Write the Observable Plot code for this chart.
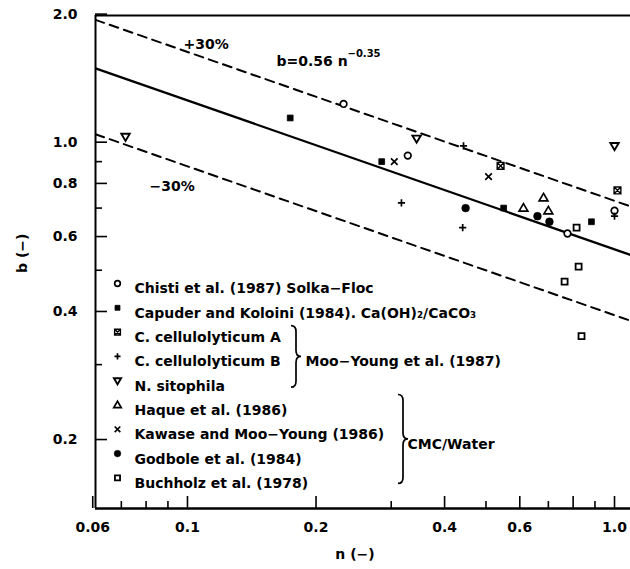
<!DOCTYPE html>
<html>
<head>
<meta charset="utf-8">
<script src="https://cdn.jsdelivr.net/npm/d3@7"></script>
<script src="https://cdn.jsdelivr.net/npm/@observablehq/plot@0.6"></script>
<style>
  html, body { margin: 0; padding: 0; background: #fff; }
  #chart { width: 630px; height: 569px; }
</style>
</head>
<body>
<div id="chart"></div>
<script>
// ---------- DATA (n, b) ----------
const chisti   = [[0.232, 1.23], [0.328, 0.93], [0.776, 0.61], [1.0, 0.69]];
const capuder  = [[0.174, 1.14], [0.285, 0.90], [0.550, 0.70], [0.883, 0.65]];
const ccellA   = [[0.541, 0.88], [1.016, 0.77]];
const ccellB   = [[0.443, 0.98], [0.317, 0.72], [0.441, 0.63], [1.0, 0.67]];
const nsito    = [[0.0716, 1.03], [0.344, 1.02], [1.0, 0.98]];
const haque    = [[0.612, 0.70], [0.682, 0.74], [0.700, 0.69]];
const kawase   = [[0.305, 0.90], [0.507, 0.83]];
const godbole  = [[0.448, 0.70], [0.660, 0.67], [0.704, 0.65]];
const buchholz = [[0.815, 0.63], [0.824, 0.51], [0.764, 0.47], [0.837, 0.35]];

const seriesLabels = [
  "Chisti et al. (1987) Solka\u2212Floc",
  "Capuder and Koloini (1984). Ca(OH)\u2082/CaCO\u2083",
  "C. cellulolyticum A",
  "C. cellulolyticum B",
  "N. sitophila",
  "Haque et al. (1986)",
  "Kawase and Moo\u2212Young (1986)",
  "Godbole et al. (1984)",
  "Buchholz et al. (1978)"
];
const groupLabels = ["Moo\u2212Young et al. (1987)", "CMC/Water"];

const xTickLabels = [0.06, 0.1, 0.2, 0.4, 0.6, 0.8, 1.0];
const xMinorTicks = [0.07, 0.08, 0.09, 0.3, 0.5, 0.7, 0.9];
const yTickLabels = [0.2, 0.4, 0.6, 0.8, 1.0, 2.0];
const yMinorTicks = [0.3, 0.5, 0.7, 0.9];

// correlation b = 0.56 n^-0.35, +/-30 %
const fitCoef = 0.56, fitExp = -0.35, band = 0.30;

// ---------- layout / styles ----------
const W = 630, H = 569;
const mL = 95, mR = 0, mT = 15, mB = 61;
const plotW = W - mL - mR, plotH = H - mT - mB;
const xDomain = [0.0609, 1.09];
const yDomain = [0.1377, 1.985];
const FONT = "DejaVu Sans";
const FS = 14;

function rOf(size) { return Math.sqrt(size / Math.PI); }
const symCircle = { draw(c, s) { const r = rOf(s); c.moveTo(r, 0); c.arc(0, 0, r, 0, 2 * Math.PI); } };
const symSquare = { draw(c, s) { const r = rOf(s); c.rect(-r, -r, 2 * r, 2 * r); } };
const symBoxX = { draw(c, s) { const r = rOf(s); c.rect(-r, -r, 2 * r, 2 * r); c.moveTo(-r, -r); c.lineTo(r, r); c.moveTo(r, -r); c.lineTo(-r, r); } };
const symPlus = { draw(c, s) { const r = rOf(s); c.moveTo(-r, 0); c.lineTo(r, 0); c.moveTo(0, -r); c.lineTo(0, r); } };
const symTimes = { draw(c, s) { const r = rOf(s); c.moveTo(-r, -r); c.lineTo(r, r); c.moveTo(r, -r); c.lineTo(-r, r); } };
const symDown = { draw(c, s) { const r = rOf(s); c.moveTo(-r, -0.7 * r); c.lineTo(r, -0.7 * r); c.lineTo(0, r); c.closePath(); } };
const symUp = { draw(c, s) { const r = rOf(s); c.moveTo(-r, 0.7 * r); c.lineTo(r, 0.7 * r); c.lineTo(0, -r); c.closePath(); } };

const seriesData = [chisti, capuder, ccellA, ccellB, nsito, haque, kawase, godbole, buchholz];
const seriesStyle = [
  { symbol: symCircle, r: 3.3, fill: "white", stroke: "black", strokeWidth: 1.7 },
  { symbol: symSquare, r: 2.9, fill: "black", stroke: "black", strokeWidth: 0.8 },
  { symbol: symBoxX,   r: 3.4, fill: "white", stroke: "black", strokeWidth: 1.4 },
  { symbol: symPlus,   r: 3.6, fill: "none",  stroke: "black", strokeWidth: 1.7 },
  { symbol: symDown,   r: 4.2, fill: "white", stroke: "black", strokeWidth: 1.9 },
  { symbol: symUp,     r: 4.4, fill: "white", stroke: "black", strokeWidth: 1.7 },
  { symbol: symTimes,  r: 3.3, fill: "none",  stroke: "black", strokeWidth: 1.7 },
  { symbol: symCircle, r: 3.9, fill: "black", stroke: "black", strokeWidth: 0.5 },
  { symbol: symSquare, r: 3.0, fill: "white", stroke: "black", strokeWidth: 1.8 }
];

const fitLine = xDomain.map(n => ({ n, b: fitCoef * Math.pow(n, fitExp) }));
const upLine = fitLine.map(d => ({ n: d.n, b: d.b * (1 + band) }));
const loLine = fitLine.map(d => ({ n: d.n, b: d.b * (1 - band) }));

const legendX = 22, legendTextX = 39, legendY0 = 268, legendDY = 24.3;
const txt = { fontSize: FS, fontWeight: "bold" };

const marks = [];
// frame lines
marks.push(Plot.ruleY([yDomain[1]], { stroke: "black", strokeWidth: 2 }));
marks.push(Plot.ruleY([yDomain[0]], { stroke: "black", strokeWidth: 2.6 }));
marks.push(Plot.ruleX([xDomain[0]], { stroke: "black", strokeWidth: 2 }));
// inward ticks
marks.push(Plot.ruleX(xTickLabels, { x: d => d, insetTop: plotH - 12, stroke: "black", strokeWidth: 1.6 }));
marks.push(Plot.ruleX(xMinorTicks, { x: d => d, insetTop: plotH - 7, stroke: "black", strokeWidth: 1.6 }));
marks.push(Plot.ruleY(yTickLabels, { y: d => d, insetRight: plotW - 12, stroke: "black", strokeWidth: 1.6 }));
marks.push(Plot.ruleY(yMinorTicks, { y: d => d, insetRight: plotW - 7, stroke: "black", strokeWidth: 1.6 }));
// axes labels
marks.push(Plot.axisX({ ticks: xTickLabels, tickSize: 0, tickPadding: 14, label: null, tickFormat: d => d === 0.06 ? "0.06" : d.toFixed(1), ...txt }));
marks.push(Plot.axisY({ ticks: yTickLabels, tickSize: 0, tickPadding: 18, label: null, tickFormat: d => d.toFixed(1), ...txt }));
marks.push(Plot.text(["n (\u2212)"], { frameAnchor: "bottom", dx: -8, dy: 50, ...txt }));
marks.push(Plot.text(["b (\u2212)"], { frameAnchor: "left", dx: -73, dy: 11, rotate: -90, ...txt }));
// correlation lines
marks.push(Plot.line(fitLine, { x: "n", y: "b", stroke: "black", strokeWidth: 2.3, clip: true }));
marks.push(Plot.line(upLine, { x: "n", y: "b", stroke: "black", strokeWidth: 2, strokeDasharray: "9,6", clip: true }));
marks.push(Plot.line(loLine, { x: "n", y: "b", stroke: "black", strokeWidth: 2, strokeDasharray: "9,6", clip: true }));
// annotations
marks.push(Plot.text(["+30%"], { frameAnchor: "top-left", dx: 88, dy: 24, textAnchor: "start", ...txt }));
marks.push(Plot.text(["\u221230%"], { frameAnchor: "top-left", dx: 54, dy: 166, textAnchor: "start", ...txt }));
marks.push(Plot.text(["b=0.56 n"], { frameAnchor: "top-left", dx: 181, dy: 41, textAnchor: "start", ...txt }));
marks.push(Plot.text(["\u22120.35"], { frameAnchor: "top-left", dx: 252, dy: 34, textAnchor: "start", fontSize: 10, fontWeight: "bold" }));
// data points
seriesData.forEach((data, i) => {
  const s = seriesStyle[i];
  marks.push(Plot.dot(data, { x: d => d[0], y: d => d[1], symbol: s.symbol, r: s.r, fill: s.fill, stroke: s.stroke, strokeWidth: s.strokeWidth }));
});
// legend
seriesLabels.forEach((label, i) => {
  const s = seriesStyle[i];
  const dy = legendY0 + i * legendDY;
  marks.push(Plot.dot([label], { frameAnchor: "top-left", dx: legendX, dy, symbol: s.symbol, r: s.r * 0.85, fill: s.fill, stroke: s.stroke, strokeWidth: s.strokeWidth }));
  marks.push(Plot.text([label], { frameAnchor: "top-left", dx: legendTextX, dy, text: d => d, textAnchor: "start", ...txt }));
});
marks.push(Plot.text([groupLabels[0]], { frameAnchor: "top-left", dx: 210, dy: legendY0 + 3 * legendDY, textAnchor: "start", ...txt }));
marks.push(Plot.text([groupLabels[1]], { frameAnchor: "top-left", dx: 312, dy: legendY0 + 6.4 * legendDY, textAnchor: "start", ...txt }));

const chart = Plot.plot({
  width: W, height: H,
  marginLeft: mL, marginRight: mR, marginTop: mT, marginBottom: mB,
  x: { type: "log", domain: xDomain },
  y: { type: "log", domain: yDomain },
  style: { fontFamily: FONT, fontSize: FS + "px", background: "white", color: "black" },
  marks
});

// curly braces grouping legend rows
function brace(x, y0, y1, w) {
  const ym = (y0 + y1) / 2, h = w / 2, r = 6;
  return `M${x},${y0} Q${x + h},${y0} ${x + h},${y0 + r} L${x + h},${ym - r} Q${x + h},${ym} ${x + w},${ym} ` +
         `Q${x + h},${ym} ${x + h},${ym + r} L${x + h},${y1 - r} Q${x + h},${y1} ${x},${y1}`;
}
const svg = d3.select(chart);
const rowY = i => mT + legendY0 + i * legendDY;
svg.append("path").attr("d", brace(mL + 196, rowY(2) - 6, rowY(4) + 7, 10))
  .attr("fill", "none").attr("stroke", "black").attr("stroke-width", 1.7);
svg.append("path").attr("d", brace(mL + 303, rowY(5) - 10, rowY(8) + 6, 10))
  .attr("fill", "none").attr("stroke", "black").attr("stroke-width", 1.7);

document.getElementById("chart").appendChild(chart);
</script>
</body>
</html>
